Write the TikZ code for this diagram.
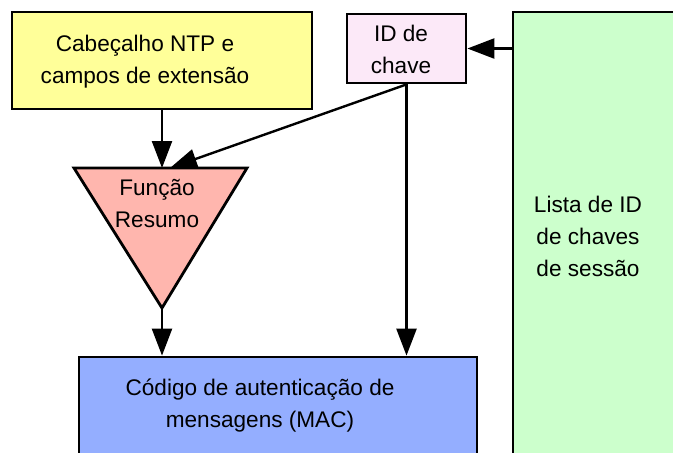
\documentclass[tikz,border=0pt]{standalone}
\usepackage{fontspec}
\setmainfont{Liberation Sans}
\usetikzlibrary{arrows.meta,positioning}
\definecolor{hdrfill}{HTML}{FFFF99}
\definecolor{keyfill}{HTML}{FCE9F8}
\definecolor{listfill}{HTML}{CCFFCC}
\definecolor{hashfill}{HTML}{FFB6AE}
\definecolor{macfill}{HTML}{94AEFF}
\tikzset{
  box/.style={draw, line width=1.4pt, inner sep=0pt},
  txt/.style={align=center, font=\fontsize{11.3}{16}\selectfont},
  flow/.style={line width=1.2pt, -{Triangle[length=13.5pt,width=10pt]}},
}
\begin{document}
\begin{tikzpicture}[x=0.5pt, y=-0.5pt]
        \useasboundingbox (0,0) rectangle (673,452);
        \node[box, fill=hdrfill, minimum width=150pt, minimum height=48.5pt] (hdr) at (162,60.5) {};
        \node[txt] (hdrtxt) at (145,62) {Cabeçalho NTP e\\campos de extensão};
        \node[box, fill=keyfill, minimum width=59.5pt, minimum height=34.5pt] (key) at (406.5,48.5) {};
        \node[txt] (keytxt) at (401,49.5) {ID de\\chave};
        \node[box, fill=listfill, minimum width=93.5pt, minimum height=234pt] (list) at (606.5,246) {};
        \node[txt] (listtxt) at (588,236.5) {Lista de ID\\de chaves\\de sessão};
        \node[box, fill=macfill, minimum width=199pt, minimum height=61.5pt] (mac) at (278,418.5) {};
        \node[txt] (mactxt) at (260,405.5) {Código de autenticação de\\mensagens (MAC)};
        % hash triangle
        \draw[box, fill=hashfill] (74,168) -- (247,168) -- (162,308) -- cycle;
        \coordinate (hashtop) at (162,168);
        \coordinate (hashin) at (170,168);
        \coordinate (hashtip) at (162,308);
        \node[txt] (hashtxt) at (157,203) {Função\\Resumo};
        \draw[flow] (hdr.south) -- (hashtop);
        \draw[flow] (key.south) -- (hashin);
        \draw[flow] (key.south) -- (key.south |- mac.north);
        \draw[flow] (key.east -| list.west) -- (key.east);
        \draw[flow] (hashtip) -- (hashtip |- mac.north);
\end{tikzpicture}
\end{document}
